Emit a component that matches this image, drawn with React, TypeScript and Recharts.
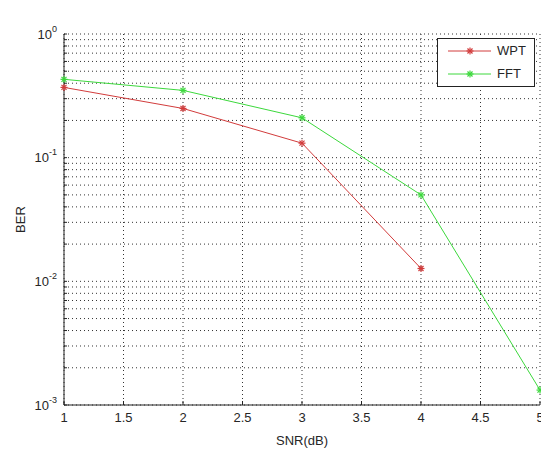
import React from 'react';
import { LineChart, Line, XAxis, YAxis, CartesianGrid, Label } from 'recharts';

const snrDb = [1, 2, 3, 4, 5];
const wptBer: (number | null)[] = [0.37, 0.25, 0.131, 0.0127, null];
const fftBer: (number | null)[] = [0.43, 0.35, 0.21, 0.05, 0.00132];
const xTicks = [1, 1.5, 2, 2.5, 3, 3.5, 4, 4.5, 5];
const yDecades = [0.001, 0.01, 0.1, 1];
const yMinorSteps = [2, 3, 4, 5, 6, 7, 8, 9];
const title = 'QPSK IN AWGN';
const xLabel = 'SNR(dB)';
const yLabel = 'BER';
const seriesNames = ['WPT', 'FFT'];
const seriesColors = ['#d23c3c', '#3cd83c'];

const yTicks = yDecades.flatMap((d, i) =>
  i < yDecades.length - 1 ? [d, ...yMinorSteps.map((m) => +(d * m).toPrecision(3))] : [d]
);

const data = snrDb.map((x, i) => ({ snr: x, wpt: wptBer[i], fft: fftBer[i] }));

const FONT = '"Liberation Sans", Arial, sans-serif';
const TEXT = '#262626';

const Star = ({ cx, cy, color, r = 3.5 }: any) => {
  if (cx == null || cy == null || isNaN(cx) || isNaN(cy)) return <g />;
  const d = r * 0.72;
  return (
    <g stroke={color} strokeWidth={1.2}>
      <line x1={cx - r} y1={cy} x2={cx + r} y2={cy} />
      <line x1={cx} y1={cy - r} x2={cx} y2={cy + r} />
      <line x1={cx - d} y1={cy - d} x2={cx + d} y2={cy + d} />
      <line x1={cx - d} y1={cy + d} x2={cx + d} y2={cy - d} />
    </g>
  );
};

const YTick = (props: any) => {
  const { x, y, payload } = props;
  const v = payload.value;
  const e = Math.log10(v);
  if (Math.abs(e - Math.round(e)) > 1e-6) return <g />;
  return (
    <text x={x} y={y} textAnchor="end" fill={TEXT} fontSize={13} fontFamily={FONT} dy="0.36em">
      10
      <tspan dy={-7} fontSize={9}>{String(Math.round(e))}</tspan>
    </text>
  );
};

export default function App() {
  return (
    <div style={{ position: 'absolute', left: 0, top: 0, width: 541, height: 449, background: '#fff' }}>
      <LineChart
        width={541}
        height={449}
        data={data}
        margin={{ top: 34, right: 1, bottom: 0, left: 0 }}
        style={{ fontFamily: FONT }}
      >
        <CartesianGrid stroke="#333" strokeDasharray="1 3" />
        <XAxis
          dataKey="snr"
          type="number"
          domain={[1, 5]}
          ticks={xTicks}
          interval={0}
          height={44}
          stroke="#222"
          tickSize={-4}
          tickMargin={12}
          tick={{ fill: TEXT, fontSize: 13, fontFamily: FONT }}
        >
          <Label value={xLabel} position="insideBottom" offset={4} fill={TEXT} fontSize={13} fontFamily={FONT} />
        </XAxis>
        <XAxis
          xAxisId="top"
          orientation="top"
          type="number"
          domain={[1, 5]}
          ticks={xTicks}
          interval={0}
          height={0}
          stroke="#222"
          tickSize={-4}
          tick={false}
        >
          <Label value={title} position="top" offset={14} fill={TEXT} fontSize={13} fontFamily={FONT} />
        </XAxis>
        <YAxis
          scale="log"
          domain={[0.001, 1]}
          allowDataOverflow
          ticks={yTicks}
          interval={0}
          width={64}
          stroke="#222"
          tickSize={-3}
          tickMargin={10}
          tick={<YTick />}
        >
          <Label
            value={yLabel}
            angle={-90}
            position="insideLeft"
            offset={20}
            fill={TEXT}
            fontSize={13}
            fontFamily={FONT}
            style={{ textAnchor: 'middle' }}
          />
        </YAxis>
        <YAxis
          yAxisId="right"
          orientation="right"
          scale="log"
          domain={[0.001, 1]}
          allowDataOverflow
          ticks={yTicks}
          interval={0}
          width={0}
          stroke="#222"
          tickSize={-3}
          tick={false}
        />
        <Line
          type="linear"
          dataKey="wpt"
          name={seriesNames[0]}
          stroke={seriesColors[0]}
          strokeWidth={1}
          isAnimationActive={false}
          dot={(p: any) => <Star key={'w' + p.index} cx={p.cx} cy={p.cy} color={seriesColors[0]} />}
          activeDot={false}
        />
        <Line
          type="linear"
          dataKey="fft"
          name={seriesNames[1]}
          stroke={seriesColors[1]}
          strokeWidth={1}
          isAnimationActive={false}
          dot={(p: any) => <Star key={'f' + p.index} cx={p.cx} cy={p.cy} color={seriesColors[1]} />}
          activeDot={false}
        />
      </LineChart>
      <div
        style={{
          position: 'absolute',
          left: 437,
          top: 38,
          width: 98,
          height: 49,
          border: '1px solid #222',
          background: '#fff',
          boxSizing: 'border-box',
          fontFamily: FONT,
          fontSize: 13,
          color: TEXT,
        }}
      >
        {seriesNames.map((n, i) => (
          <div key={n} style={{ position: 'absolute', left: 0, top: 4 + i * 23, height: 16, width: 96 }}>
            <svg width={56} height={16} style={{ position: 'absolute', left: 0, top: 0 }}>
              <line x1={10} y1={8} x2={53} y2={8} stroke={seriesColors[i]} strokeWidth={1} />
              <Star cx={32} cy={8} color={seriesColors[i]} />
            </svg>
            <span style={{ position: 'absolute', left: 59, top: 0, lineHeight: '16px' }}>{n}</span>
          </div>
        ))}
      </div>
    </div>
  );
}
